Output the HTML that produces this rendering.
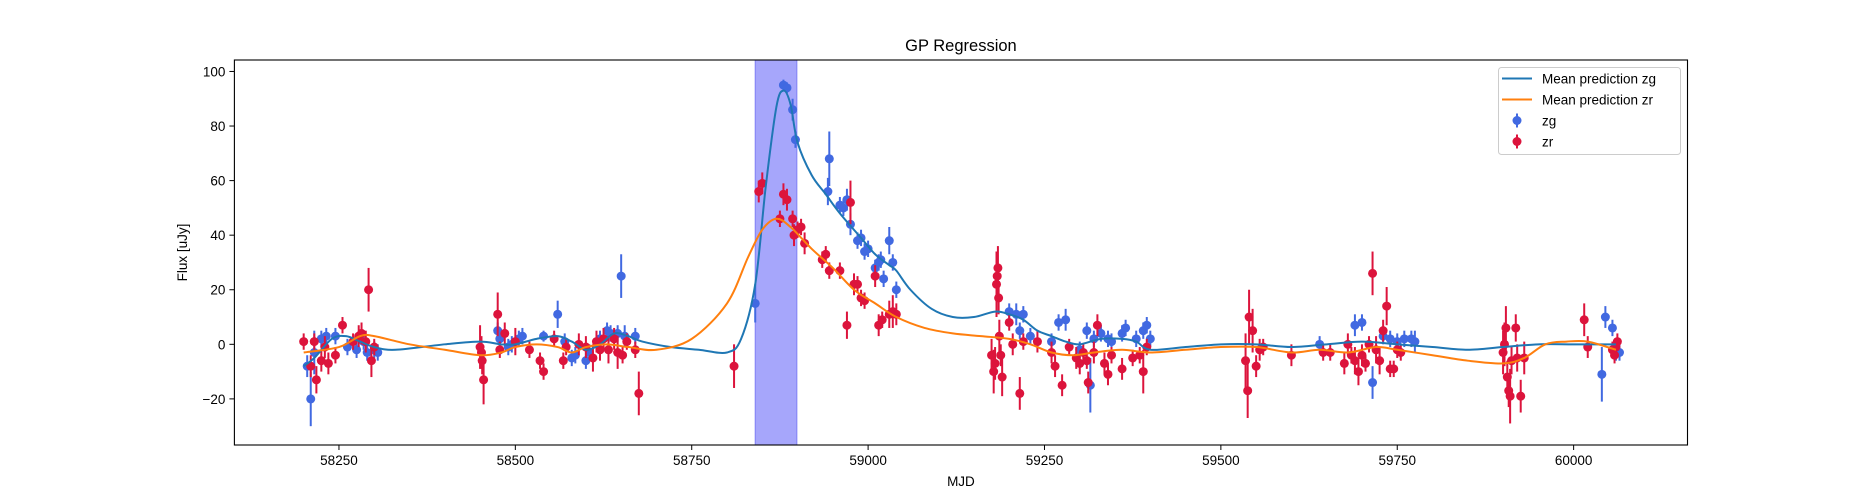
<!DOCTYPE html>
<html><head><meta charset="utf-8"><style>
html,body{margin:0;padding:0;background:#fff;}
svg{display:block;font-family:"Liberation Sans","DejaVu Sans",sans-serif;}
</style></head><body>
<svg id="chart" width="1875" height="500" viewBox="0 0 1875 500" xmlns="http://www.w3.org/2000/svg">
<rect width="1875" height="500" fill="#fff"/>
<g id="plot"></g>
</svg>
<script>
const xTicks = [58250, 58500, 58750, 59000, 59250, 59500, 59750, 60000];
const yTicks = [-20, 0, 20, 40, 60, 80, 100];
const spanRange = [58840, 58899];
const zgMjd = [58205,58210,58215,58225,58232,58245,58262,58275,58285,58290,58300,58305,58475,58478,58490,58495,58505,58510,58540,58560,58570,58580,58585,58600,58605,58620,58630,58635,58645,58650,58655,58670,58840,58880,58885,58893,58897,58945,58943,58960,58965,58970,58975,58985,58990,58995,59000,59010,59015,59018,59022,59030,59035,59040,59200,59210,59215,59220,59230,59260,59270,59280,59300,59310,59315,59320,59330,59340,59345,59360,59365,59380,59390,59395,59400,59640,59690,59700,59715,59730,59740,59750,59760,59770,59775,60040,60045,60055,60060,60065];
const zgFlux = [-8,-20,-3,2,3,3,-1,-2,1,-3,-2,-3,5,2,-1,0,2,3,3,11,1,-5,-4,-6,-3,2,5,4,4,25,3,3,15,95,94,86,75,68,56,51,50,53,44,38,39,34,35,28,30,31,24,38,30,20,12,11,5,11,3,1,8,9,-2,5,-15,2,4,2,1,4,6,2,5,7,2,0,7,8,-14,3,2,1,2,2,1,-11,10,6,-3,-3];
const zgErr = [4,10,8,3,3,3,3,3,3,3,3,3,3,4,3,3,3,3,2,5,3,3,3,3,3,3,3,3,3,8,4,3,7,2,2,4,3,10,5,3,3,4,4,3,3,3,3,3,3,3,3,5,3,3,3,4,3,3,3,3,3,4,3,3,10,3,3,3,3,3,3,3,3,3,3,3,4,3,6,3,3,3,3,3,4,10,4,3,3,3];
const zrMjd = [58200,58210,58215,58218,58225,58230,58235,58245,58255,58270,58278,58282,58288,58292,58296,58300,58450,58452,58453,58455,58475,58478,58485,58500,58520,58535,58540,58555,58568,58572,58590,58600,58610,58615,58620,58625,58632,58640,58645,58652,58658,58670,58675,58810,58845,58850,58875,58880,58885,58893,58895,58900,58905,58910,58935,58940,58945,58960,58970,58975,58980,58985,58990,58995,59010,59015,59020,59030,59035,59040,59175,59178,59180,59182,59183,59184,59185,59186,59188,59190,59200,59205,59215,59220,59240,59260,59265,59275,59285,59295,59300,59305,59310,59312,59320,59325,59335,59340,59345,59360,59375,59385,59390,59395,59535,59538,59540,59545,59550,59555,59560,59600,59645,59655,59675,59680,59685,59690,59695,59700,59705,59710,59715,59720,59725,59730,59735,59740,59745,59750,59755,59900,59902,59904,59906,59908,59910,59912,59918,59920,59925,59930,60015,60020,60055,60058,60060,60062];
const zrFlux = [1,-8,1,-13,-6,-1,-7,-4,7,1,3,4,1,20,-6,-1,-1,-3,-6,-13,11,-2,4,1,-2,-6,-10,2,-6,-1,0,-1,-5,1,-2,2,-2,2,-3,-4,1,-2,-18,-8,56,59,46,55,53,46,40,42,43,37,31,33,27,27,7,52,22,22,17,16,25,7,9,11,12,11,-4,-10,-7,22,25,28,17,3,-4,-12,8,0,-18,1,1,-3,-8,-15,-1,-5,-7,-3,-6,-14,-3,7,-7,-11,-4,-9,-5,-4,-10,-1,-6,-17,10,5,-8,-2,-1,-4,-3,-3,-7,0,-4,-6,-10,-4,-7,0,26,-2,-6,5,14,-9,-9,-2,-3,-3,0,6,-12,-17,-19,-6,6,-5,-19,-5,9,-1,-2,-4,-1,1];
const zrErr = [3,4,3,5,4,4,4,3,3,3,4,4,4,8,6,3,8,6,5,9,8,3,4,5,3,3,3,3,3,3,4,4,5,4,4,4,5,4,6,3,3,3,8,8,4,4,3,4,4,3,4,3,3,4,3,3,3,3,5,8,4,3,3,3,4,4,3,5,6,4,6,8,6,12,8,8,6,6,4,7,3,4,6,3,4,4,4,4,3,4,4,3,3,4,4,4,4,4,3,4,3,3,8,3,10,10,10,8,4,4,3,4,3,3,4,4,3,5,5,4,3,3,8,5,5,4,7,3,3,3,3,8,8,8,6,6,10,5,5,5,6,6,6,4,3,3,3,3];
const gLineMjd = [58200,58215,58240,58260,58280,58300,58330,58400,58450,58480,58500,58530,58560,58580,58600,58620,58640,58660,58680,58720,58760,58800,58820,58840,58855,58870,58880,58890,58900,58920,58940,58960,58990,59010,59030,59040,59060,59090,59120,59150,59180,59200,59220,59240,59260,59280,59300,59330,59360,59380,59400,59450,59500,59550,59600,59650,59700,59750,59800,59850,59900,59950,60000,60060];
const gLineVal = [-8,-5,2,3,1,-1,-2,0,1,0,0,2,3,1,-2,0,4,3,1,-1,-2,-3,2,22,58,87,93,88,74,62,55,48,39,33,29,27,20,13,10,10,12,11,9,5,3,1,0,2,2,1,-2,-1,0,0,-1,0,1,0,-1,-2,-1,0,0,0];
const rLineMjd = [58200,58250,58280,58300,58350,58400,58450,58480,58500,58530,58560,58580,58600,58630,58660,58700,58750,58800,58830,58850,58870,58890,58920,58950,58980,59010,59040,59080,59120,59160,59200,59230,59260,59290,59320,59360,59400,59450,59500,59550,59600,59640,59680,59720,59750,59800,59850,59900,59930,59960,59990,60020,60060];
const rLineVal = [-3,-1,3,3,0,-2,-4,-3,-1,0,-1,-3,-1,0,-1,-2,2,15,32,42,46,43,35,28,20,15,10,6,4,3,2,0,-3,-4,-3,-2,-3,-2,-1,-1,-3,-2,-3,-1,-2,-4,-6,-7,-5,0,1,1,-2];

const L=234.4,R=1687.5,T=60,B=445;
const X0=58101.8,X1=60161.4,Y0=-36.9,Y1=104.2;
const sx=v=>L+(v-X0)/(X1-X0)*(R-L);
const sy=v=>B-(v-Y0)/(Y1-Y0)*(B-T);
const NS="http://www.w3.org/2000/svg";
const plot=document.getElementById('plot');
function mk(tag,attrs,parent){const e=document.createElementNS(NS,tag);for(const k in attrs)e.setAttribute(k,attrs[k]);(parent||plot).appendChild(e);return e;}

const span=mk('rect',{x:sx(spanRange[0]),y:T,width:sx(spanRange[1])-sx(spanRange[0]),height:B-T,fill:'#a6a6fb',stroke:'#8080f5','stroke-width':1});



function curve(xs,ys,color,name){
  const p=xs.map((x,i)=>[sx(x),sy(ys[i])]);
  let d='M'+p[0][0]+','+p[0][1];
  for(let i=0;i<p.length-1;i++){
    const p0=p[Math.max(0,i-1)],p1=p[i],p2=p[i+1],p3=p[Math.min(p.length-1,i+2)];
    const c1=[p1[0]+(p2[0]-p0[0])/6,p1[1]+(p2[1]-p0[1])/6];
    const c2=[p2[0]-(p3[0]-p1[0])/6,p2[1]-(p3[1]-p1[1])/6];
    d+=' C'+c1[0]+','+c1[1]+' '+c2[0]+','+c2[1]+' '+p2[0]+','+p2[1];
  }
  const e=mk('path',{d:d,fill:'none',stroke:color,'stroke-width':2});
  
  
}
function points(xs,ys,es,color,name){
  const g=mk('g',{});
  
  
  xs.forEach((x,i)=>{
    const cx=sx(x);
    const bar=mk('line',{x1:cx,x2:cx,y1:sy(ys[i]-es[i]),y2:sy(ys[i]+es[i]),stroke:color,'stroke-width':2},g);
    
    
    const c=mk('circle',{cx:cx,cy:sy(ys[i]),r:4.5,fill:color},g);
    
    
  });
}
points(zgMjd,zgFlux,zgErr,'#4169e1','zg-points');
points(zrMjd,zrFlux,zrErr,'#dc143c','zr-points');
curve(gLineMjd,gLineVal,'#1f77b4','mean-prediction-zg-line');
curve(rLineMjd,rLineVal,'#ff7f0e','mean-prediction-zr-line');

const frame=mk('rect',{x:L,y:T,width:R-L,height:B-T,fill:'none',stroke:'#000','stroke-width':1.1});


xTicks.forEach(t=>{
  const x=sx(t);
  mk('line',{x1:x,x2:x,y1:B,y2:B+5,stroke:'#000','stroke-width':1});
  const tx=mk('text',{x:x,y:B+20,'font-size':13.5,'text-anchor':'middle',fill:'#000'});
  tx.textContent=t;
  
  
});
yTicks.forEach(t=>{
  const y=sy(t);
  mk('line',{x1:L-5,x2:L,y1:y,y2:y,stroke:'#000','stroke-width':1});
  const tx=mk('text',{x:L-9,y:y+5,'font-size':13.5,'text-anchor':'end',fill:'#000'});
  tx.textContent=(t<0?'\u2212'+(-t):t);
  
  
});
const title=mk('text',{x:(L+R)/2,y:51,'font-size':16.5,'text-anchor':'middle',fill:'#000'});
title.textContent='GP Regression';


const xl=mk('text',{x:(L+R)/2,y:486,'font-size':13.5,'text-anchor':'middle',fill:'#000'});
xl.textContent='MJD';


const yl=mk('text',{x:0,y:0,'font-size':13.5,'text-anchor':'middle',fill:'#000',transform:'translate(187,'+((T+B)/2)+') rotate(-90)'});
yl.textContent='Flux [uJy]';



const lg=mk('g',{});


mk('rect',{x:1498.5,y:67.5,width:182,height:87,rx:3,fill:'#fff','fill-opacity':0.8,stroke:'#ccc','stroke-width':1},lg);
const entries=[['line','#1f77b4','Mean prediction zg'],['line','#ff7f0e','Mean prediction zr'],['pt','#4169e1','zg'],['pt','#dc143c','zr']];
entries.forEach((en,i)=>{
  const y=78.5+i*21;
  const eg=mk('g',{},lg);
  
  
  if(en[0]==='line'){mk('line',{x1:1502,x2:1532,y1:y,y2:y,stroke:en[1],'stroke-width':2},eg);}
  else{mk('line',{x1:1517,x2:1517,y1:y-7,y2:y+7,stroke:en[1],'stroke-width':2},eg);mk('circle',{cx:1517,cy:y,r:4.5,fill:en[1]},eg);}
  const t=mk('text',{x:1542,y:y+5,'font-size':13.5,fill:'#000'},eg);
  t.textContent=en[2];
});
</script>
</body></html>
